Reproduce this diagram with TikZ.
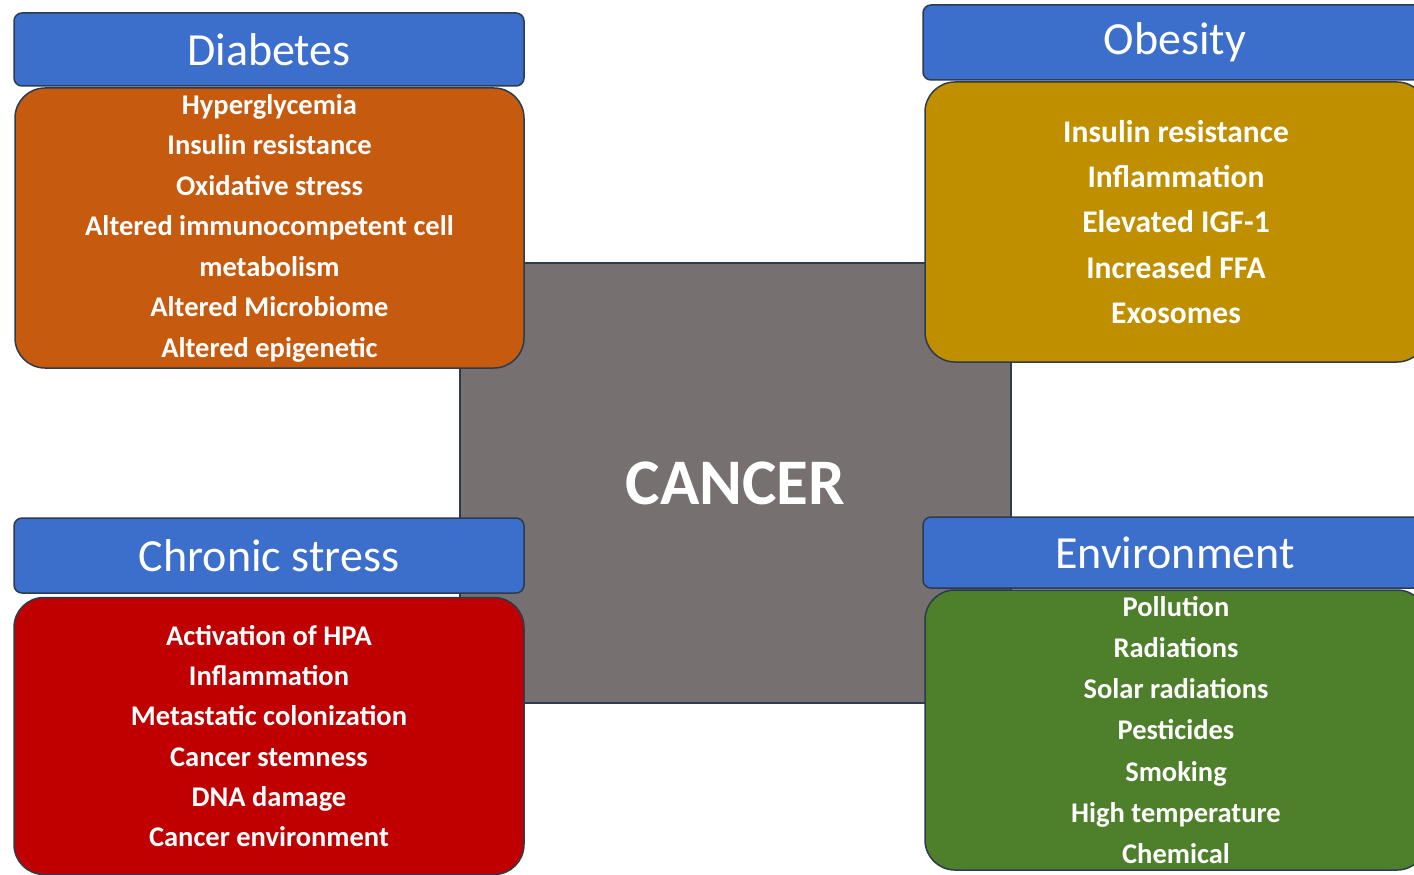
\documentclass[tikz,border=0pt]{standalone}
\usepackage{fontspec}
\setmainfont{Carlito}
\definecolor{hdrblue}{HTML}{3C6FCB}
\definecolor{edgecol}{HTML}{2E3A4E}
\definecolor{diaborange}{HTML}{C65A0E}
\definecolor{obesgold}{HTML}{BF8F00}
\definecolor{stressred}{HTML}{C00000}
\definecolor{envgreen}{HTML}{4E7F2A}
\definecolor{cancergray}{HTML}{767070}
\begin{document}
\begin{tikzpicture}[x=1pt,y=-1pt,
  hdr/.style={draw=edgecol, line width=1.5pt, fill=hdrblue, rounded corners=8pt, text=white, inner sep=0pt,
              font=\fontsize{46}{52}\selectfont},
  body/.style={draw=edgecol, line width=1.5pt, rounded corners=30pt, text=white, align=center, inner sep=0pt,
               font=\bfseries\fontsize{28.5}{40.5}\selectfont},
  core/.style={draw=edgecol, line width=1.5pt, fill=cancergray, text=white, inner sep=0pt,
               font=\bfseries\fontsize{65}{70}\selectfont}]
\useasboundingbox (0,0) rectangle (1414,875);
\clip (0,0) rectangle (1414,875);
\fill[white] (0,0) rectangle (1414,875);

% central box
\node[core, minimum width=551pt, minimum height=440pt] (cancer) at (735.5,483) {CANCER};

% Diabetes
\node[hdr, minimum width=510pt, minimum height=73pt] (dh) at (269,49.5) {Diabetes};
\node[body, fill=diaborange, minimum width=509pt, minimum height=280pt] (db) at (269.5,228)
  {Hyperglycemia\\Insulin resistance\\Oxidative stress\\Altered immunocompetent cell\\metabolism\\Altered Microbiome\\Altered epigenetic};

% Obesity
\node[hdr, minimum width=504pt, minimum height=75pt] (oh) at (1175,42.5) {Obesity};
\node[body, fill=obesgold, minimum width=502pt, minimum height=280pt,
      font=\bfseries\fontsize{31.5}{45.3}\selectfont] (ob) at (1176,222)
  {Insulin resistance\\Inflammation\\Elevated IGF-1\\Increased FFA\\Exosomes};

% Chronic stress
\node[hdr, minimum width=510pt, minimum height=75pt] (ch) at (269,555.5) {Chronic stress};
\node[body, fill=stressred, minimum width=510pt, minimum height=277pt,
      font=\bfseries\fontsize{28.5}{40.2}\selectfont] (cb) at (269,736)
  {Activation of HPA\\Inflammation\\Metastatic colonization\\Cancer stemness\\DNA damage\\Cancer environment};

% Environment
\node[hdr, minimum width=504pt, minimum height=71pt] (eh) at (1175,552.5) {Environment};
\node[body, fill=envgreen, minimum width=502pt, minimum height=280pt,
      font=\bfseries\fontsize{28.5}{41.2}\selectfont] (eb) at (1176,730)
  {Pollution\\Radiations\\Solar radiations\\Pesticides\\Smoking\\High temperature\\Chemical};
\end{tikzpicture}
\end{document}
